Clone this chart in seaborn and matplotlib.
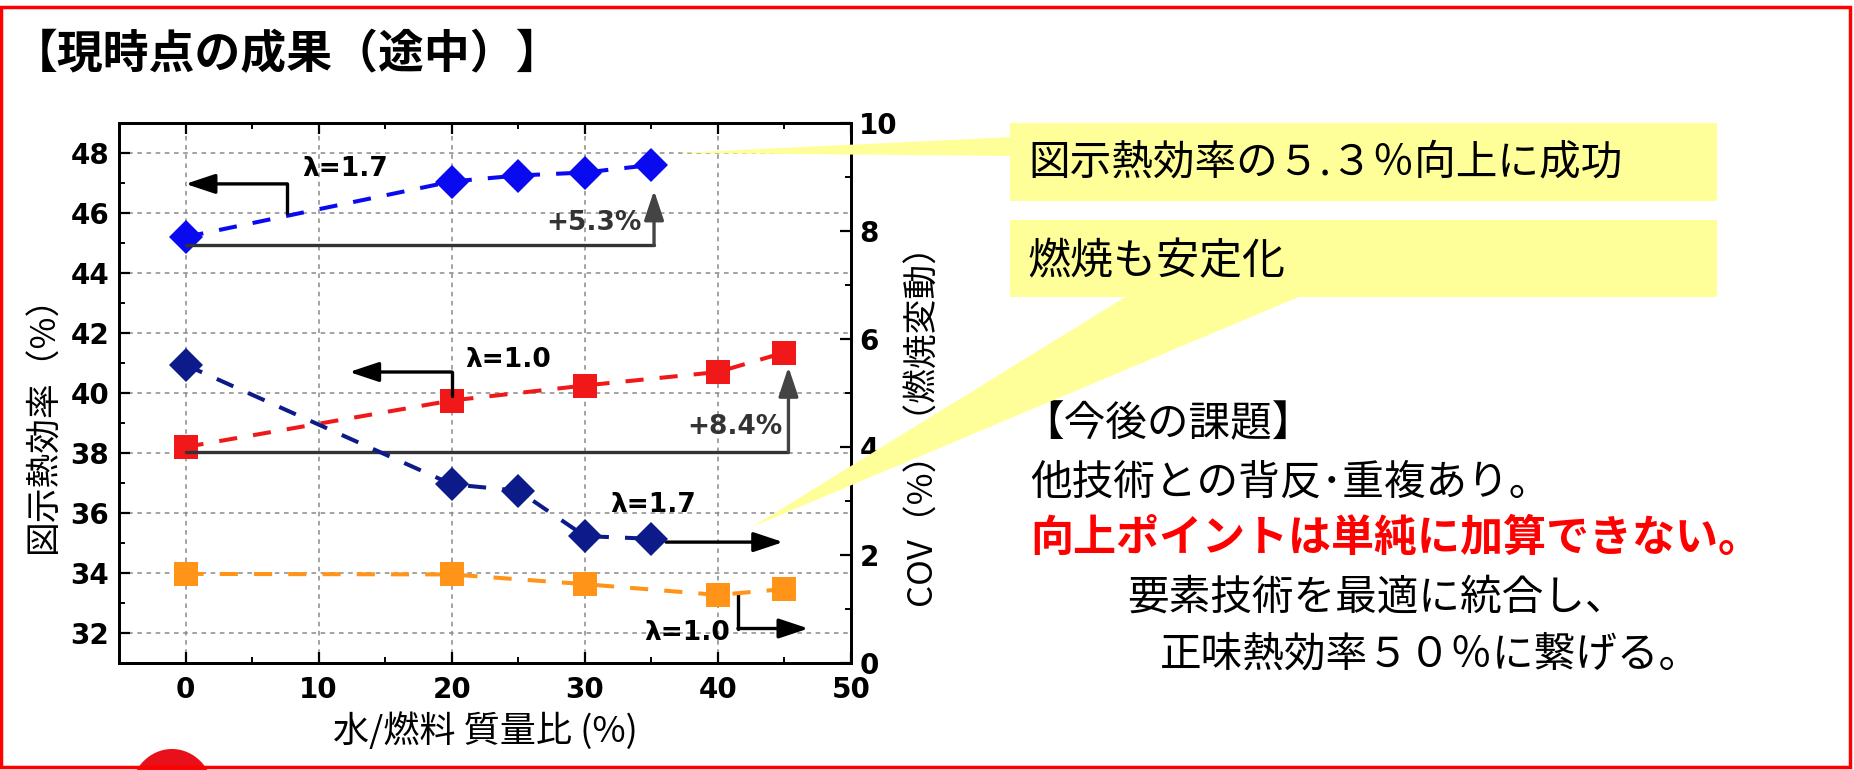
import matplotlib
matplotlib.use('Agg')
import matplotlib.pyplot as plt
import seaborn as sns
from matplotlib.patches import Polygon, Rectangle, Ellipse
from matplotlib.ticker import MultipleLocator

# data
ratio_eff_17 = [0, 20, 25, 30, 35]
eff_17 = [45.2, 47.05, 47.25, 47.35, 47.6]
ratio_eff_10 = [0, 20, 30, 40, 45]
eff_10 = [38.2, 39.75, 40.25, 40.7, 41.35]
ratio_cov_17 = [0, 20, 25, 30, 35]
cov_17 = [5.52, 3.31, 3.19, 2.35, 2.30]
ratio_cov_10 = [0, 20, 30, 40, 45]
cov_10 = [1.65, 1.64, 1.46, 1.26, 1.37]

x_ticks = [0, 10, 20, 30, 40, 50]
eff_ticks = [32, 34, 36, 38, 40, 42, 44, 46, 48]
cov_ticks = [0, 2, 4, 6, 8, 10]

title = '【現時点の成果（途中）】'
x_label = '水/燃料 質量比 (%)'
y_label = '図示熱効率（%）'
y2_label = 'COV（%）（燃焼変動）'
callout1 = '図示熱効率の５.３％向上に成功'
callout2 = '燃焼も安定化'
notes = ['【今後の課題】', '他技術との背反･重複あり。', '向上ポイントは単純に加算できない。',
         '要素技術を最適に統合し、', '正味熱効率５０％に繋げる。']

BLUE = '#0A0AF0'
RED = '#F01818'
NAVY = '#0D1A8A'
ORANGE = '#FF9418'
YELLOW = '#FFFF99'

sns.set_theme(style='white')
plt.rcParams['font.family'] = ['Noto Sans CJK JP', 'DejaVu Sans']
plt.rcParams.update({'text.color': 'black', 'axes.labelcolor': 'black',
                     'xtick.color': 'black', 'ytick.color': 'black'})

W, H = 1854, 770
fig = plt.figure(figsize=(W / 100, H / 100), dpi=100)


def fx(x):
    return x / W


def fy(y):
    return 1 - y / H


ax = fig.add_axes([fx(119), fy(663), (851 - 119) / W, (663 - 123) / H])
ax2 = ax.twinx()

dash = (0, (4.5, 4))
line_kw = dict(markeredgewidth=0, linestyle=dash, linewidth=2.9)
sns.lineplot(x=ratio_eff_17, y=eff_17, ax=ax, color=BLUE, marker='D', markersize=17, **line_kw)
sns.lineplot(x=ratio_eff_10, y=eff_10, ax=ax, color=RED, marker='s', markersize=17.5, **line_kw)
sns.lineplot(x=ratio_cov_17, y=cov_17, ax=ax2, color=NAVY, marker='D', markersize=17, **line_kw)
sns.lineplot(x=ratio_cov_10, y=cov_10, ax=ax2, color=ORANGE, marker='s', markersize=17.5, **line_kw)

ax.set_xlim(-5, 50)
ax.set_ylim(31, 49)
ax2.set_ylim(0, 10)
ax.set_xticks(x_ticks)
ax.set_yticks(eff_ticks)
ax2.set_yticks(cov_ticks)
ax.xaxis.set_minor_locator(MultipleLocator(5))
ax.yaxis.set_minor_locator(MultipleLocator(1))
ax2.yaxis.set_minor_locator(MultipleLocator(1))

ax.grid(True, which='major', color='#8a8a8a', linestyle=(0, (3, 3)), linewidth=1.1)
ax.tick_params(axis='x', which='both', direction='in', top=True, bottom=True, pad=9)
ax.tick_params(axis='y', which='both', direction='in', left=True, right=False, pad=7)
ax2.tick_params(axis='y', which='both', direction='in', right=True, pad=6)
for a in (ax, ax2):
    a.tick_params(which='major', length=8, width=1.6, color='black', labelsize=20)
    a.tick_params(which='minor', length=4, width=1.4, color='black')
    for s in a.spines.values():
        s.set_color('black')
        s.set_linewidth(2)
for lab in ax.get_xticklabels() + ax.get_yticklabels() + ax2.get_yticklabels():
    lab.set_fontfamily('DejaVu Sans')
    lab.set_fontweight('bold')

ax.set_xlabel(x_label, fontsize=26, labelpad=6)
ax.set_ylabel('')
ax2.set_ylabel('')
fig.text(fx(44), fy(415), y_label, fontsize=25, rotation=90, ha='center', va='center')
fig.text(fx(922), fy(416), y2_label, fontsize=25, rotation=90, ha='center', va='center')

# annotations (left-axis data coordinates)
ann_font = dict(fontsize=19, fontweight='bold', family='DejaVu Sans', ha='center', va='center')
head = '-|>,head_length=0.9,head_width=0.3'


def arrow(p0, p1, color='black'):
    ax.annotate('', xy=p1, xytext=p0,
                arrowprops=dict(arrowstyle=head, color=color, lw=2.4,
                                shrinkA=0, shrinkB=0, mutation_scale=20))


# lambda=1.7 efficiency
ax.plot([7.65, 7.65], [46.0, 46.97], color='black', lw=2.4)
arrow((7.65, 46.97), (0, 46.97))
ax.text(12.0, 47.45, 'λ=1.7', **ann_font)
# +5.3 %
ax.plot([0, 35.2], [44.93, 44.93], color='#333333', lw=2.4)
arrow((35.2, 44.93), (35.2, 46.75), color='#444444')
ax.text(30.7, 45.67, '+5.3%', color='#333333', **ann_font)
# lambda=1.0 efficiency
ax.plot([20, 20], [39.9, 40.7], color='black', lw=2.4)
arrow((20, 40.7), (12.3, 40.7))
ax.text(24.2, 41.1, 'λ=1.0', **ann_font)
# +8.4 %
ax.plot([0, 45.3], [38.05, 38.05], color='#333333', lw=2.4)
arrow((45.3, 38.05), (45.3, 40.87), color='#444444')
ax.text(41.3, 38.87, '+8.4%', color='#333333', **ann_font)
# lambda=1.7 COV
arrow((36.1, 35.03), (44.9, 35.03))
ax.text(35.1, 36.27, 'λ=1.7', **ann_font)
# lambda=1.0 COV
ax.plot([41.5, 41.5], [33.3, 32.15], color='black', lw=2.4)
arrow((41.5, 32.15), (46.8, 32.15))
ax.text(37.7, 32.0, 'λ=1.0', **ann_font)

# callouts
def fig_poly(pts, **kw):
    p = Polygon([(fx(x), fy(y)) for x, y in pts], closed=True, transform=fig.transFigure,
                facecolor=YELLOW, edgecolor='none', zorder=5, **kw)
    fig.patches.append(p)


fig_poly([(1010, 123), (1717, 123), (1717, 201), (1010, 201)])
fig_poly([(677, 153), (1012, 137), (1012, 156)])
fig_poly([(1010, 220), (1717, 220), (1717, 297), (1010, 297)])
fig_poly([(1127, 296), (1301, 296), (752, 527)])

fig.text(fx(1028), fy(163), callout1, fontsize=30, va='center', ha='left', zorder=6)
fig.text(fx(1028), fy(262), callout2, fontsize=31, va='center', ha='left', zorder=6)

fig.text(fx(1022), fy(425), notes[0], fontsize=30, va='center', ha='left')
fig.text(fx(1030), fy(483), notes[1], fontsize=30, va='center', ha='left')
fig.text(fx(1030), fy(538), notes[2], fontsize=31, va='center', ha='left', color='#FF0000',
         fontweight='bold')
fig.text(fx(1127), fy(598), notes[3], fontsize=30, va='center', ha='left')
fig.text(fx(1160), fy(655), notes[4], fontsize=30, va='center', ha='left')

fig.text(fx(12), fy(55), title, fontsize=33, fontweight='bold', va='center', ha='left')

# slide frame and logo fragment
fig.patches.append(Rectangle((fx(1), fy(767)), (1850 - 1) / W, (767 - 7) / H, fill=False,
                             edgecolor='#FF0000', linewidth=2.5, transform=fig.transFigure,
                             zorder=7))
fig.patches.append(Ellipse((fx(172), fy(795)), 84 / W, 92 / H, facecolor='#E8101A',
                           edgecolor='none', transform=fig.transFigure, zorder=6))

fig.savefig('out.png', dpi=100)
